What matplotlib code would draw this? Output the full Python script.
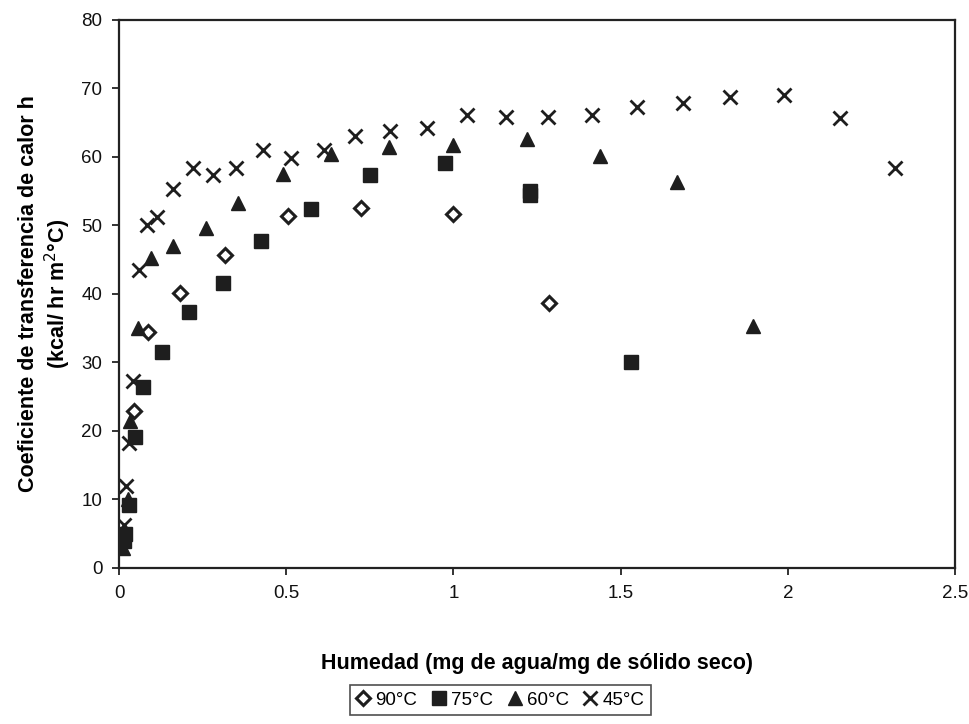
import matplotlib
matplotlib.use("Agg")
import matplotlib.pyplot as plt

plt.rcParams['font.family'] = ['Liberation Sans', 'DejaVu Sans']

x90 = [0.045, 0.087, 0.183, 0.317, 0.505, 0.723, 1.0, 1.287]
y90 = [22.9, 34.5, 40.1, 45.7, 51.4, 52.6, 51.7, 38.7]

x75 = [0.015, 0.018, 0.030, 0.048, 0.072, 0.128, 0.21, 0.31, 0.424, 0.573,
       0.75, 0.974, 1.23, 1.23, 1.53]
y75 = [4.0, 5.0, 9.2, 19.1, 26.4, 31.5, 37.4, 41.6, 47.8, 52.4,
       57.4, 59.1, 54.4, 55.0, 30.1]

x60 = [0.012, 0.027, 0.033, 0.057, 0.096, 0.16, 0.26, 0.355, 0.49, 0.633,
       0.806, 1.0, 1.22, 1.437, 1.67, 1.897]
y60 = [2.9, 10.0, 21.5, 35.0, 45.2, 47.0, 49.6, 53.3, 57.5, 60.5,
       61.5, 61.8, 62.6, 60.2, 56.3, 35.3]

x45 = [0.015, 0.021, 0.030, 0.042, 0.060, 0.084, 0.113, 0.16, 0.22, 0.28,
       0.35, 0.43, 0.514, 0.612, 0.705, 0.81, 0.92, 1.04, 1.156, 1.284,
       1.416, 1.55, 1.688, 1.828, 1.99, 2.157, 2.32]
y45 = [6.3, 12.0, 18.2, 27.3, 43.5, 50.1, 51.2, 55.3, 58.4, 57.3,
       58.4, 61.0, 59.8, 61.0, 63.0, 63.8, 64.2, 66.1, 65.8, 65.8,
       66.1, 67.3, 67.9, 68.8, 69.0, 65.7, 58.4]

labels = ['90°C', '75°C', '60°C', '45°C']
xticks = [0, 0.5, 1, 1.5, 2, 2.5]
yticks = [0, 10, 20, 30, 40, 50, 60, 70, 80]

c = '#1e1e1e'
fig = plt.figure(figsize=(9.7, 7.24), dpi=100)
ax = fig.add_axes([0.1227, 0.2155, 0.8618, 0.757])

ax.plot(x90, y90, linestyle='none', marker='D', markersize=7.5,
        markerfacecolor='white', markeredgecolor=c, markeredgewidth=2.2, label=labels[0])
ax.plot(x75, y75, linestyle='none', marker='s', markersize=9.5,
        color=c, label=labels[1])
ax.plot(x60, y60, linestyle='none', marker='^', markersize=10.5,
        color=c, label=labels[2])
ax.plot(x45, y45, linestyle='none', marker='x', markersize=10,
        markeredgewidth=2.0, color=c, label=labels[3])

ax.set_xlim(0, 2.5)
ax.set_ylim(0, 80)
ax.set_xticks(xticks)
ax.set_xticklabels(['0', '0.5', '1', '1.5', '2', '2.5'])
ax.set_yticks(yticks)
ax.tick_params(direction='out', length=5, width=1.2, labelsize=13.5, colors='#111111', pad=7)
for s in ax.spines.values():
    s.set_linewidth(1.6)
    s.set_color('#222222')

ax.set_xlabel('Humedad (mg de agua/mg de sólido seco)', fontsize=15.5,
              fontweight='bold', labelpad=37)
ax.set_ylabel('Coeficiente de transferencia de calor h\n(kcal/ hr m$^{2}$°C)',
              fontsize=15.5, fontweight='bold', labelpad=6, linespacing=1.15)

leg = fig.legend(loc='center', bbox_to_anchor=(0.516, 0.033), ncol=4,
                 fontsize=13.5, frameon=True, fancybox=False, handlelength=0.7,
                 handletextpad=0.3, columnspacing=0.8, borderpad=0.35,
                 edgecolor='#222222')
leg.get_frame().set_linewidth(1.2)

fig.savefig('out.png', dpi=100)
